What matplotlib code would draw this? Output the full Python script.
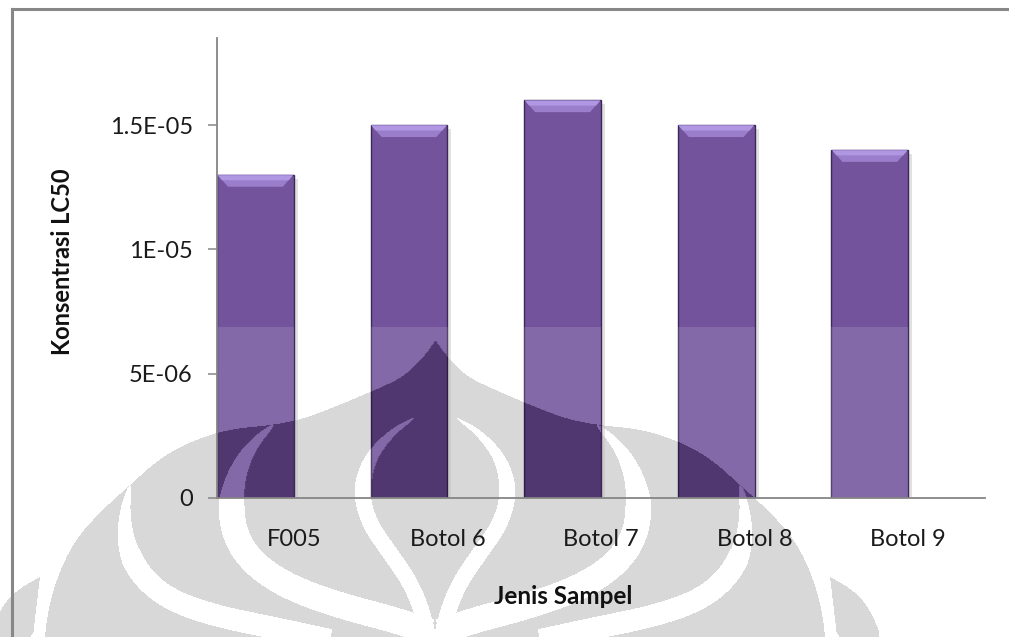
import numpy as np
import matplotlib
matplotlib.use('Agg')
import matplotlib.pyplot as plt
from matplotlib.path import Path
from matplotlib.patches import Polygon, Rectangle
from matplotlib.lines import Line2D

# LC50 per sample
categories = ['F005', 'Botol 6', 'Botol 7', 'Botol 8', 'Botol 9']
lc50 = [1.3e-5, 1.5e-5, 1.6e-5, 1.5e-5, 1.4e-5]
yticks = [0, 5e-6, 1e-5, 1.5e-5]
ytick_labels = ['0', '5E-06', '1E-05', '1.5E-05']
ymax = 1.85e-5

plt.rcParams['font.family'] = ['Lato', 'DejaVu Sans']

W, H = 1009, 637
fig = plt.figure(figsize=(W / 100, H / 100), dpi=100)

# ---- background watermark (pixel grid, y down) ----
yy, xx = np.mgrid[0:H, 0:W] + 0.5
grid = np.column_stack([xx.ravel(), yy.ravel()])
CX = 435.0


def mirror(p):
    p = np.asarray(p, float)
    return np.column_stack([2 * CX - p[:, 0], p[:, 1]])


def smooth(p, n=3):
    p = np.asarray(p, float)
    for _ in range(n):
        q = [p[0]]
        for a, b in zip(p[:-1], p[1:]):
            q.append(0.75 * a + 0.25 * b)
            q.append(0.25 * a + 0.75 * b)
        q.append(p[-1])
        p = np.array(q)
    return p


def stripe(center, wmax, ramp=0.35):
    c = smooth(center)
    d = np.gradient(c, axis=0)
    d /= np.linalg.norm(d, axis=1)[:, None]
    nrm = np.column_stack([-d[:, 1], d[:, 0]])
    s = np.linspace(0, 1, len(c))
    w = wmax * np.clip(s / ramp, 0, 1)
    return np.vstack([c + nrm * w[:, None] / 2, (c - nrm * w[:, None] / 2)[::-1]])


def inside(poly):
    return Path(poly).contains_points(grid).reshape(H, W)


outer_r = smooth([(435, 340), (447, 357), (467, 377), (500, 392), (533, 406),
                  (567, 419), (597, 425), (640, 429), (676, 440), (710, 458),
                  (740, 485), (770, 512), (795, 540), (812, 575), (822, 610),
                  (826, 645)])
outer = np.vstack([outer_r, mirror(outer_r)[::-1]])
lobe_r = smooth([(830, 577), (850, 588), (868, 605), (885, 645), (838, 645),
                 (834, 610), (830, 577)], 2)

s1 = [(597, 425), (618, 445), (633, 472), (640, 505), (634, 540), (612, 568),
      (575, 590), (525, 607), (475, 620), (440, 632)]
s2 = [(740, 485), (746, 515), (743, 550), (726, 580), (696, 602), (650, 617),
      (600, 627), (540, 640)]
tulip = [(457, 418), (482, 435), (503, 462), (509, 495), (500, 525), (480, 553),
         (460, 582), (448, 610), (440, 645)]

logo = inside(outer) | inside(lobe_r) | inside(mirror(lobe_r))
for c, wm in [(s1, 26), (s2, 22), (tulip, 16)]:
    st = stripe(c, wm)
    logo &= ~(inside(st) | inside(mirror(st)))

bg = np.zeros((H, W, 4))
bg[logo] = [0.85, 0.85, 0.85, 1.0]
bgax = fig.add_axes([0, 0, 1, 1], zorder=-1)
bgax.imshow(bg, extent=[0, W, H, 0], interpolation='bilinear', aspect='auto')
bgax.set_xlim(0, W)
bgax.set_ylim(H, 0)
bgax.axis('off')

# ---- chart ----
ax = fig.add_axes([217 / W, 1 - 498 / H, (985 - 217) / W, (498 - 38) / H])
ax.set_facecolor('none')

x = np.arange(len(categories))
bars = ax.bar(x - 0.5, lc50, width=0.5, align='edge', color='#72539C',
              edgecolor='#3B2A57', linewidth=1.0, zorder=3)

px_y = ymax / (498 - 38)
px_x = 5.0 / (985 - 217)

overlay = np.zeros((H, W, 4))
overlay[(yy >= 327) & ~logo] = [1, 1, 1, 0.13]
overlay[logo] = [0.05, 0.0, 0.1, 0.33]

for b in bars:
    x0, w, h = b.get_x(), b.get_width(), b.get_height()
    # soft shadow on the right
    ax.add_patch(Rectangle((x0 + w, 0), 4 * px_x, h - 4 * px_y, color='#BDBDBD',
                           alpha=0.45, lw=0, zorder=2))
    # bevelled top
    ax.add_patch(Polygon([(x0 + 0.5 * px_x, h), (x0 + w - 0.5 * px_x, h),
                          (x0 + w - 11 * px_x, h - 12 * px_y),
                          (x0 + 11 * px_x, h - 12 * px_y)], closed=True,
                         color='#9A7ECC', lw=0, zorder=3.5))
    ax.add_patch(Polygon([(x0 + 1 * px_x, h - 0.8 * px_y), (x0 + w - 1 * px_x, h - 0.8 * px_y),
                          (x0 + w - 5 * px_x, h - 5.5 * px_y), (x0 + 5 * px_x, h - 5.5 * px_y)],
                         closed=True, color='#B097E2', lw=0, zorder=3.6))
    im = ax.imshow(overlay, extent=[0, 1, 0, 1], transform=fig.transFigure,
                   interpolation='bilinear', aspect='auto', zorder=4)
    im.set_clip_path(b)

ax.set_xlim(-0.5, len(categories) - 0.5)
ax.set_ylim(0, ymax)
ax.set_yticks(yticks)
ax.set_yticklabels(ytick_labels)
ax.set_xticks(x)
ax.set_xticklabels(categories)

for side in ['top', 'right']:
    ax.spines[side].set_visible(False)
for side in ['left', 'bottom']:
    ax.spines[side].set_color('#868686')
    ax.spines[side].set_linewidth(1.3)
    ax.spines[side].set_zorder(5)
ax.tick_params(axis='y', direction='out', length=6.5, width=1.1, color='#868686',
               pad=11, labelsize=17, labelcolor='#1a1a1a')
ax.tick_params(axis='x', length=0, pad=22, labelsize=17, labelcolor='#1a1a1a')

fig.text(62 / W, 1 - 262 / H, 'Konsentrasi LC50', rotation=90, ha='center',
         va='center', fontsize=17, fontweight='bold', color='#111111')
fig.text(563 / W, 1 - 597 / H, 'Jenis Sampel', ha='center', va='center',
         fontsize=17.5, fontweight='bold', color='#111111')

# chart frame
fig.add_artist(Line2D([12 / W, 1], [1 - 9 / H, 1 - 9 / H], color='#878787', lw=2.2))
fig.add_artist(Line2D([12 / W, 12 / W], [0, 1 - 9 / H], color='#878787', lw=2.2))

fig.savefig('out.png', dpi=100, facecolor='white')
